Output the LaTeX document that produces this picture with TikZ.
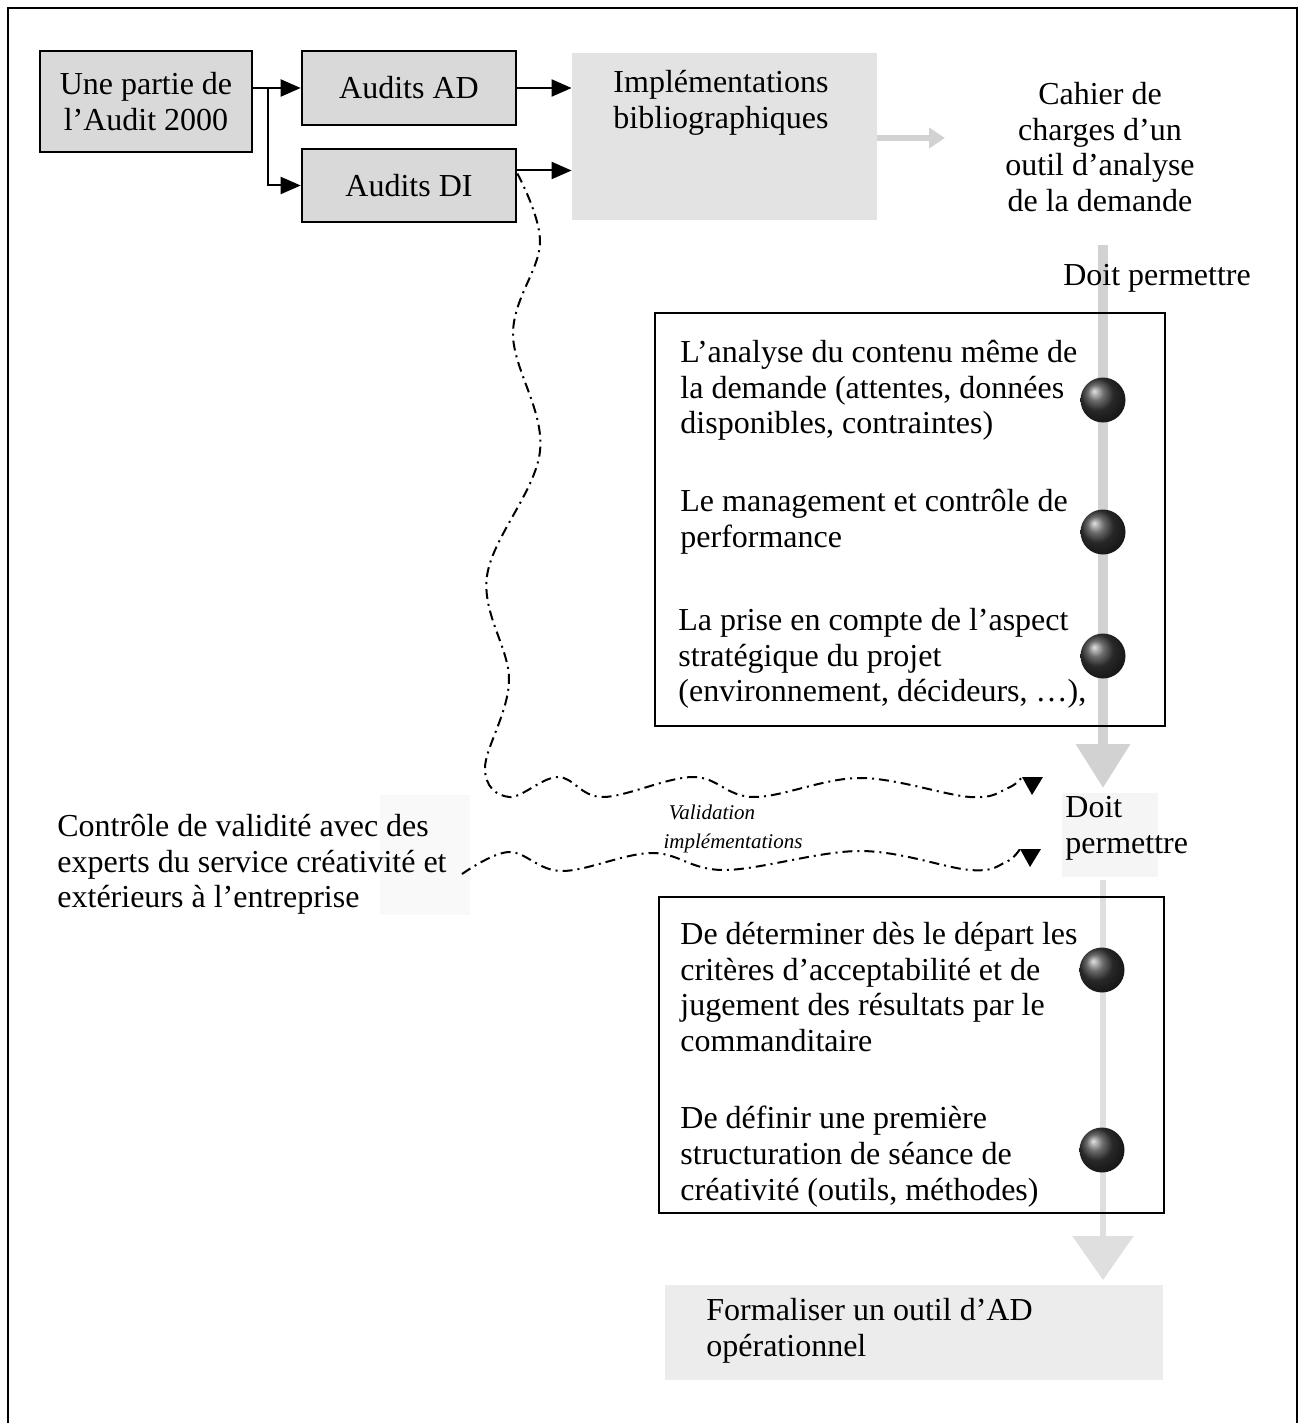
\documentclass[tikz,border=0pt]{standalone}
\usepackage{fontspec}
\setmainfont{Liberation Serif}
\usetikzlibrary{arrows.meta,calc}
\newcommand\txtsize{\fontsize{16}{17.8}\selectfont}
\newcommand\lblsize{\fontsize{10.5}{12}\selectfont\itshape}
\begin{document}
\begin{tikzpicture}[x=0.5pt,y=-0.5pt,
  every node/.style={inner sep=0pt, font=\txtsize},
  graybox/.style={draw=black, line width=1.3pt, fill=gray!30},
  whitebox/.style={draw=black, line width=1pt},
  blk/.style={line width=1pt},
  blkarr/.style={line width=1pt, -{Triangle[length=10pt,width=8.5pt]}},
  grayarr/.style={line width=3pt, draw=gray!35, -{Triangle[length=8pt,width=10pt]}},
  band/.style={line width=5pt, draw=gray!35},
  dd/.style={line width=1pt, dash pattern=on 5pt off 2.5pt on 1pt off 2.5pt},
  bullet/.style={circle, minimum size=22.5pt, shading=ball, ball color=gray!45!black},
  lbl/.style={font=\lblsize}
]
\useasboundingbox (0,0) rectangle (1305,1423);
% outer frame
\draw[line width=1.2pt] (8,1423) -- (8,8) -- (1297,8) -- (1297,1423);

% background stipple areas
\node[fill=gray!22, minimum width=152.5pt, minimum height=83.5pt] (implbg) at (724.5,136.5) {};
\node[fill=gray!15, minimum width=249pt, minimum height=47.5pt] (formbg) at (914,1332) {};
\node[fill=gray!5, minimum width=45pt, minimum height=60pt] (ctrlbg) at (425,855) {};
\node[fill=gray!8, minimum width=48pt, minimum height=42pt] (doitbg) at (1110,835) {};

% top boxes
\node[graybox, minimum width=106pt, minimum height=50.5pt, align=center] (box1) at (146,101.5) {Une partie de\\l’Audit 2000};
\node[graybox, minimum width=107pt, minimum height=37pt] (ad) at (409,88) {Audits AD};
\node[graybox, minimum width=107pt, minimum height=36.5pt] (di) at (409,185.5) {Audits DI};
\node[align=center] (impl) at (721,103) {Implémentations\\bibliographiques};
\node[align=center] (cahier) at (1100,147) {Cahier de\\charges d’un\\outil d’analyse\\de la demande};

% connectors top
\coordinate (j) at (268,88);
\draw[blk] (box1.east |- j) -- (j);
\draw[blkarr] (j) -- (ad.west);
\draw[blkarr] (j) |- (di.west);
\draw[blkarr] (ad.east) -- (ad.east -| implbg.west);
\coordinate (diout) at ($(di.east)+(0,-15)$);
\draw[blkarr] (diout) -- (diout -| implbg.west);
\coordinate (gend) at (945,138);
\draw[grayarr] (implbg.east |- gend) -- (gend);

% vertical gray band
\coordinate (b1s) at (1103,245);
\coordinate (b1e) at (1103,788);
\coordinate (b2s) at (1103,880);
\coordinate (b2e) at (1103,1280);
\draw[band, -{Triangle[length=22pt,width=26pt]}] (b1s) -- (b1e);
\draw[band, draw=gray!25, line width=3pt, -{Triangle[length=22pt,width=30pt]}] (b2s) -- (b2e);

\node (doit1) at (1157,278) {Doit permettre};

% box A
\node[whitebox, minimum width=255pt, minimum height=206.5pt] (boxa) at (910,519.5) {};
\node[anchor=north west, align=left] (a1) at (680,340) {L’analyse du contenu même de\\la demande (attentes, données\\disponibles, contraintes)};
\node[anchor=north west, align=left] (a2) at (680,489) {Le management et contrôle de\\performance};
\node[anchor=north west, align=left] (a3) at (678,608) {La prise en compte de l’aspect\\stratégique du projet\\(environnement, décideurs, …),};
\node[bullet] (ba1) at (1103,400) {};
\node[bullet] (ba2) at (1103,532) {};
\node[bullet] (ba3) at (1103,656) {};

% lower doit permettre
\node[anchor=north west, align=left] (doit2) at (1065,796) {Doit\\permettre};

% controle text
\node[anchor=north west, align=left] (ctrl) at (57,814) {Contrôle de validité avec des\\experts du service créativité et\\extérieurs à l’entreprise};

% wavy connectors with down-pointing triangle heads
\coordinate (w1s) at ($(di.east)+(0,-12)$);
\coordinate (tb1) at (1022,777);
\coordinate (t1) at (1032,795);
\draw[dd] plot[smooth, tension=0.6] coordinates {(w1s) (540,243) (513,334) (540,451) (487,576) (509,680) (485,768) (509,797) (558,777) (603,797) (693,777) (754,797) (860,778) (970,797) (1008,788) (tb1)};
\fill (tb1) -- (1043,777) -- (t1) -- cycle;
\coordinate (w2s) at (462,874);
\coordinate (tb2) at (1020,849);
\coordinate (t2) at (1030,867);
\draw[dd] plot[smooth, tension=0.6] coordinates {(w2s) (509,852) (562,871) (652,853) (725,870) (860,851) (970,870) (1006,862) (tb2)};
\fill (tb2) -- (1041,849) -- (t2) -- cycle;
\node[lbl] (val) at (712,812) {Validation};
\node[lbl] (valimp) at (733,843) {implémentations};

% box B
\node[whitebox, minimum width=252.5pt, minimum height=158pt] (boxb) at (911.5,1055) {};
\node[anchor=north west, align=left] (b1) at (680,922) {De déterminer dès le départ les\\critères d’acceptabilité et de\\jugement des résultats par le\\commanditaire};
\node[anchor=north west, align=left] (b2) at (680,1106) {De définir une première\\structuration de séance de\\créativité (outils, méthodes)};
\node[bullet] (bb1) at (1102,970) {};
\node[bullet] (bb2) at (1102,1150) {};

% formaliser
\node[anchor=north west, align=left] (form) at (706,1298) {Formaliser un outil d’AD\\opérationnel};
\end{tikzpicture}
\end{document}
